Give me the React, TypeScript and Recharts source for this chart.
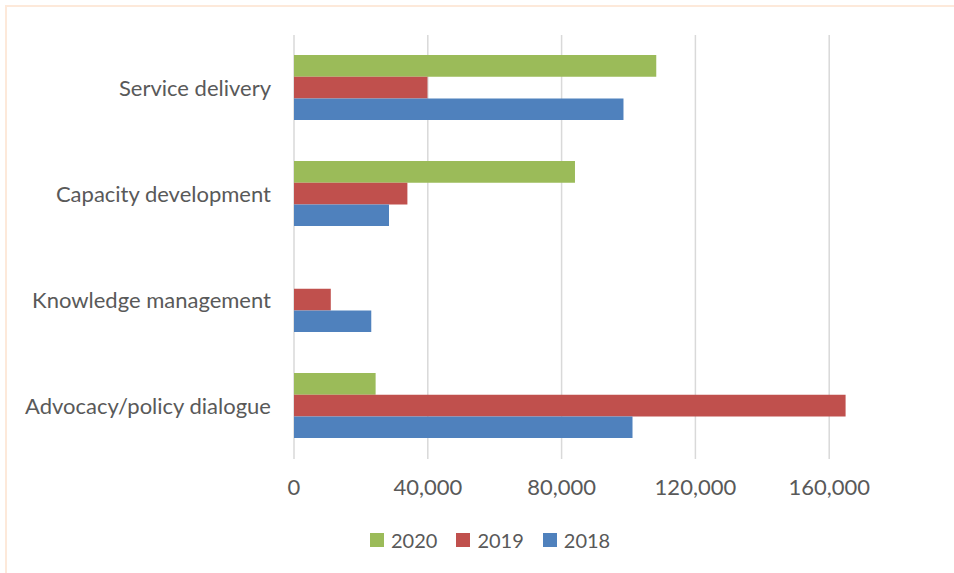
import React from 'react';
import { BarChart, Bar, XAxis, YAxis, CartesianGrid, Legend } from 'recharts';

const categories = ['Service delivery', 'Capacity development', 'Knowledge management', 'Advocacy/policy dialogue'];
const values2020 = [108300, 84000, 0, 24400];
const values2019 = [39900, 33900, 11000, 164900];
const values2018 = [98500, 28400, 23100, 101200];
const xTicks = [0, 40000, 80000, 120000, 160000];

const SERIES = [
    { key: '2020', color: '#9BBB59' },
    { key: '2019', color: '#C0504D' },
    { key: '2018', color: '#4F81BD' },
];

const data = categories.map((name, i) => ({
    name,
    '2020': values2020[i],
    '2019': values2019[i],
    '2018': values2018[i],
}));

const FONT = 'Lato, "Open Sans", sans-serif';
const TEXT = '#595959';

// keep the legend in series order (recharts sorts it by value otherwise)
const renderLegend = (props: any) => {
    const order = SERIES.map((s) => s.key);
    const payload = [...(props.payload || [])].sort(
        (a: any, b: any) => order.indexOf(String(a.value)) - order.indexOf(String(b.value))
    );
    return (
        <div style={{ display: 'flex', alignItems: 'center', fontFamily: FONT, fontSize: 20, color: TEXT }}>
            {payload.map((entry: any) => (
                <div key={entry.value} style={{ display: 'flex', alignItems: 'center', marginRight: 19 }}>
                    <span style={{ display: 'inline-block', width: 14, height: 14, background: entry.color, marginRight: 7 }} />
                    <span>{entry.value}</span>
                </div>
            ))}
        </div>
    );
};

export default function App() {
    return (
        <div style={{ position: 'absolute', left: 0, top: 0, width: 954, height: 573, overflow: 'hidden', background: '#fff' }}>
            <div style={{ position: 'absolute', left: 5, top: 5, width: 1000, height: 1000, borderTop: '2px solid #FDE9DA', borderLeft: '2px solid #FDE9DA' }} />
            <div style={{ position: 'absolute', left: 0, top: 0 }}>
                <BarChart
                    width={954}
                    height={573}
                    data={data}
                    layout="vertical"
                    margin={{ top: 35, right: -9, bottom: 74, left: 0 }}
                    barGap={0}
                >
                    <CartesianGrid horizontal={false} stroke="#D9D9D9" strokeWidth={1.5} />
                    <XAxis
                        type="number"
                        domain={[0, 200000]}
                        ticks={xTicks}
                        allowDataOverflow
                        axisLine={false}
                        tickLine={false}
                        tickSize={0}
                        tickMargin={20}
                        height={40}
                        tickFormatter={(v: number) => v.toLocaleString('en-US')}
                        tick={{ fill: TEXT, fontSize: 22, fontFamily: FONT }}
                    />
                    <YAxis
                        type="category"
                        dataKey="name"
                        width={294}
                        axisLine={false}
                        tickLine={false}
                        tickSize={0}
                        tickMargin={23}
                        tick={{ fill: TEXT, fontSize: 22, fontFamily: FONT }}
                    />
                    <Legend
                        layout="horizontal"
                        verticalAlign="middle"
                        align="center"
                        content={renderLegend}
                        wrapperStyle={{ top: 528, left: 370, width: 300 }}
                    />
                    {SERIES.map((s) => (
                        <Bar key={s.key} dataKey={s.key} name={s.key} fill={s.color} barSize={21.7} isAnimationActive={false} />
                    ))}
                </BarChart>
            </div>
        </div>
    );
}
